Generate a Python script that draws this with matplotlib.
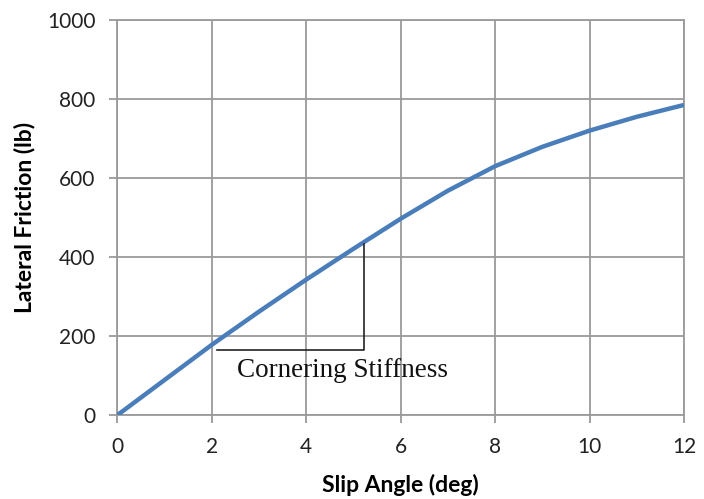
import numpy as np
import matplotlib.pyplot as plt

plt.rcParams['font.family'] = ['Lato', 'DejaVu Sans']

# lateral friction vs slip angle
slip_angle = [0, 1, 2, 3, 4, 5, 6, 7, 8, 9, 10, 11, 12]
lateral_friction = [0, 89, 178, 262, 343, 421, 497, 568, 630, 679, 720, 755, 785]

# cornering stiffness triangle corners
tri_x = [2.1, 5.22, 5.22]
tri_y = [165, 165, 432]

fig = plt.figure(figsize=(7.04, 4.99), dpi=100)
ax = fig.add_axes([0.1669, 0.1683, 0.8047, 0.7916])

ax.plot(slip_angle, lateral_friction, color='#4a7ebb', linewidth=3.2,
        solid_capstyle='butt', solid_joinstyle='round', zorder=3)
ax.plot(tri_x, tri_y, color='#222222', linewidth=1.2, zorder=4)
ax.text(2.53, 112, "Cornering Stiffness", family='Liberation Serif',
        fontsize=19.5, va='center', ha='left', color='#111111')

ax.set_xlim(0, 12)
ax.set_ylim(0, 1000)
ax.set_xticks(np.arange(0, 13, 2))
ax.set_yticks(np.arange(0, 1001, 200))
ax.grid(True, color='#9a9a9a', linewidth=1.3)
ax.set_axisbelow(True)
for s in ax.spines.values():
    s.set_color('#9a9a9a')
    s.set_linewidth(1.3)
ax.tick_params(direction='out', length=6, width=1.3, color='#9a9a9a',
               labelsize=15, labelcolor='#222222', pad=10)

ax.set_xlabel("Slip Angle (deg)", fontsize=16.5, fontweight='bold', labelpad=12)
ax.set_ylabel("Lateral Friction (lb)", fontsize=16.5, fontweight='bold', labelpad=8)

plt.savefig("out.png", dpi=100)
